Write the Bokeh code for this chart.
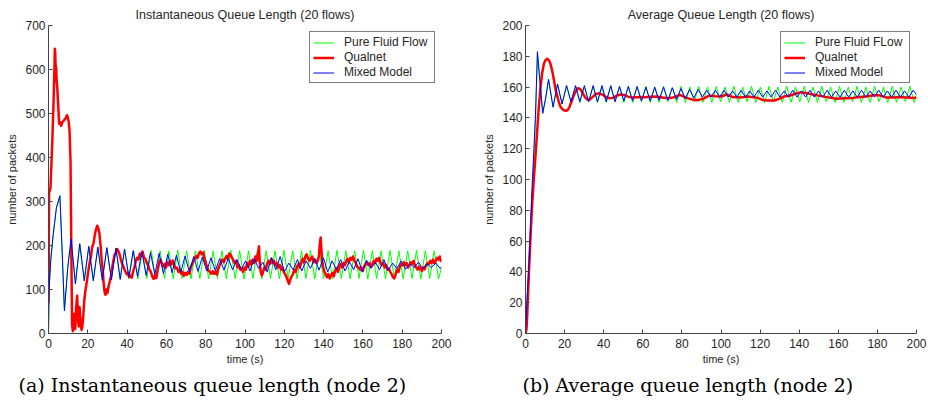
from bokeh.plotting import figure
from bokeh.layouts import row
from bokeh.models import Range1d, Title, Legend, LegendItem, FixedTicker
from bokeh.embed import file_html
from bokeh.resources import INLINE

# ---------------- data ----------------
x_ticks = [0, 20, 40, 60, 80, 100, 120, 140, 160, 180, 200]
y_ticks_left = [0, 100, 200, 300, 400, 500, 600, 700]
y_ticks_right = [0, 20, 40, 60, 80, 100, 120, 140, 160, 180, 200]
series_names_left = ["Pure Fluid Flow", "Qualnet", "Mixed Model"]
series_names_right = ["Pure Fluid FLow", "Qualnet", "Mixed Model"]

# Left panel: instantaneous queue length
early_t_left = [0, 0.3, 1.2, 2.4, 4.0, 5.8, 7.0, 8.1, 9.8, 11.5, 13.7, 15.9, 18.2, 20.5, 22.8,
                25.1, 27.4, 29.7, 32.0, 34.3, 36.5, 38.7]
early_v_left = [0, 100, 170, 225, 285, 313, 181, 52, 150, 215, 113, 204, 120, 198, 120,
                196, 121, 195, 122, 194, 123, 192]

fluid_t_left = early_t_left + [
    41.0, 43.3, 45.5, 47.8, 50.0, 52.3, 54.5, 56.8, 59.0, 61.3,
    63.5, 65.8, 68.0, 70.3, 72.5, 74.8, 77.0, 79.3, 81.5, 83.8,
    86.0, 88.3, 90.5, 92.8, 95.0, 97.3, 99.5, 101.8, 104.0, 106.3,
    108.5, 110.8, 113.0, 115.3, 117.5, 119.8, 122.0, 124.3, 126.5, 128.8,
    131.0, 133.3, 135.5, 137.8, 140.0, 142.3, 144.5, 146.8, 149.0, 151.3,
    153.5, 155.8, 158.0, 160.3, 162.5, 164.8, 167.0, 169.3, 171.5, 173.8,
    176.0, 178.3, 180.5, 182.8, 185.0, 187.3, 189.5, 191.8, 194.0, 196.3,
    198.5, 200]
fluid_v_left = early_v_left + [
    125, 189, 124, 188, 125, 189, 124, 188, 125, 188,
    124, 189, 125, 188, 124, 188, 125, 189, 124, 188,
    125, 188, 124, 189, 125, 188, 124, 188, 125, 189,
    124, 188, 125, 188, 124, 189, 125, 188, 124, 188,
    125, 189, 124, 188, 125, 188, 124, 189, 125, 188,
    124, 188, 125, 189, 124, 188, 125, 188, 124, 189,
    125, 188, 124, 188, 125, 189, 124, 188, 125, 188,
    124, 150]

mixed_t_left = early_t_left + [
    40.9, 43.1, 45.3, 47.5, 49.7, 51.9, 54.1, 56.3, 58.5, 60.7,
    62.9, 65.1, 67.3, 69.5, 71.7, 73.9, 76.1, 78.3, 80.5, 82.7,
    84.9, 87.1, 89.3, 91.5, 93.7, 95.9, 98.1, 100.3, 102.5, 104.7,
    106.9, 109.1, 111.3, 113.5, 115.7, 117.9, 120.1, 122.3, 124.5, 126.7,
    128.9, 131.1, 133.3, 135.5, 137.7, 139.9, 142.1, 144.3, 146.5, 148.7,
    150.9, 153.1, 155.3, 157.5, 159.7, 161.9, 164.1, 166.3, 168.5, 170.7,
    172.9, 175.1, 177.3, 179.5, 181.7, 183.9, 186.1, 188.3, 190.5, 192.7,
    194.9, 197.1, 199.3, 200]
mixed_v_left = early_v_left + [
    128, 188, 130, 186, 132, 184, 134, 182, 136, 180,
    138, 178, 139, 176, 140, 175, 141, 174, 142, 172,
    143, 170, 144, 170, 145, 168, 146, 165, 142, 170,
    148, 162, 140, 172, 145, 175, 140, 160, 145, 168,
    142, 165, 148, 170, 144, 172, 140, 165, 146, 168,
    142, 163, 145, 170, 140, 166, 148, 162, 145, 168,
    143, 160, 148, 165, 146, 158, 150, 162, 147, 158,
    150, 160, 148, 152]

qualnet_t_left = [
    0, 0.3, 1.0, 1.9, 2.7, 3.0, 3.2, 3.4, 3.6, 3.9,
    4.2, 4.4, 4.9, 5.4, 5.9, 6.4, 7.0, 7.6, 8.2, 8.8,
    9.4, 9.9, 10.3, 10.7, 11.2, 11.6, 12.0, 12.4, 12.8, 13.2,
    13.6, 14.0, 14.6, 15.0, 15.4, 15.8, 16.3, 16.8, 17.2, 17.7,
    18.2, 18.8, 19.5, 20.2, 20.9, 21.6, 22.2, 22.9, 23.5, 24.1,
    24.8, 25.3, 25.9, 26.5, 27.0, 27.5, 28.0, 28.5, 29.0, 29.5,
    30.0, 30.6, 31.2, 31.8, 32.4, 33.0, 33.7, 34.3, 35.0, 35.7,
    36.3, 37.0, 37.7, 38.3, 39.0, 39.7, 40.3, 41.0, 41.7, 42.4,
    43.0, 43.7, 44.4, 45.1, 45.8, 46.5, 47.2, 47.9, 48.6, 49.3,
    50.0, 50.7, 51.4, 52.1, 52.8, 53.5, 54.2, 54.9, 55.6, 56.3,
    57.0, 57.7, 58.4, 59.1, 59.8, 60.5, 61.2, 61.9, 62.6, 63.3,
    64.0, 64.7, 65.4, 66.1, 66.8, 67.5, 68.2, 68.9, 69.6, 70.3,
    71.0, 71.7, 72.4, 73.1, 73.8, 74.5, 75.2, 75.9, 76.6, 77.3,
    78.0, 78.7, 79.4, 80.1, 80.8, 81.5, 82.2, 82.9, 83.6, 84.3,
    85.0, 85.7, 86.4, 87.1, 87.8, 88.5, 89.2, 89.9, 90.6, 91.3,
    92.0, 92.7, 93.4, 94.1, 94.8, 95.5, 96.2, 96.9, 97.6, 98.3,
    99.0, 99.7, 100.4, 101.1, 101.8, 102.5, 103.2, 103.9, 104.6, 105.3,
    106.0, 106.7, 107.1, 107.5, 108.0, 108.6, 109.2, 109.9, 110.6, 111.3,
    112.0, 112.7, 113.4, 114.1, 114.8, 115.5, 116.2, 116.9, 117.6, 118.3,
    119.0, 119.7, 120.4, 121.1, 121.8, 122.4, 123.0, 123.7, 124.4, 125.1,
    125.8, 126.5, 127.2, 127.9, 128.6, 129.3, 130.0, 130.7, 131.4, 132.1,
    132.8, 133.5, 134.2, 134.9, 135.6, 136.3, 137.0, 137.6, 138.1, 138.5,
    138.9, 139.3, 139.8, 140.4, 141.0, 141.7, 142.4, 143.1, 143.8, 144.5,
    145.2, 145.9, 146.6, 147.3, 148.0, 148.7, 149.4, 150.1, 150.8, 151.5,
    152.2, 152.9, 153.6, 154.3, 155.0, 155.7, 156.4, 157.1, 157.8, 158.5,
    159.2, 159.9, 160.6, 161.3, 162.0, 162.7, 163.4, 164.1, 164.8, 165.5,
    166.2, 166.9, 167.6, 168.3, 169.0, 169.7, 170.4, 171.1, 171.8, 172.5,
    173.2, 173.9, 174.6, 175.3, 176.0, 176.7, 177.4, 178.1, 178.8, 179.5,
    180.2, 180.9, 181.6, 182.3, 183.0, 183.7, 184.4, 185.1, 185.8, 186.5,
    187.2, 187.9, 188.6, 189.3, 190.0, 190.7, 191.4, 192.1, 192.8, 193.5,
    194.2, 194.9, 195.6, 196.3, 197.0, 197.7, 198.4, 199.1, 199.6, 200]
qualnet_v_left = [
    70, 320, 330, 431, 545, 598, 647, 640, 610, 605,
    570, 564, 522, 477, 480, 472, 480, 483, 486, 490,
    496, 490, 480, 462, 393, 200, 20, 5, 35, 45,
    10, 55, 86, 30, 16, 60, 30, 8, 15, 40,
    75, 98, 118, 140, 160, 175, 196, 205, 222, 235,
    245, 240, 228, 200, 170, 150, 118, 95, 88, 100,
    92, 108, 118, 130, 150, 165, 180, 183, 192, 186,
    178, 165, 156, 150, 142, 135, 138, 128, 132, 127,
    140, 150, 165, 172, 168, 182, 177, 186, 172, 170,
    160, 155, 145, 140, 130, 124, 132, 126, 145, 160,
    168, 160, 152, 158, 150, 162, 155, 165, 158, 166,
    154, 148, 150, 140, 145, 136, 140, 131, 138, 133,
    140, 136, 150, 158, 165, 170, 176, 172, 183, 186,
    180, 184, 170, 160, 150, 142, 140, 136, 142, 135,
    140, 134, 148, 155, 162, 168, 162, 170, 176, 170,
    182, 178, 172, 166, 160, 165, 150, 155, 145, 148,
    140, 150, 145, 160, 152, 165, 158, 168, 160, 175,
    165, 185, 198, 165, 140, 132, 140, 150, 145, 160,
    165, 158, 170, 160, 165, 155, 160, 150, 156, 145,
    150, 140, 135, 128, 120, 113, 122, 130, 135, 145,
    140, 152, 158, 150, 160, 170, 162, 175, 180, 170,
    165, 170, 175, 162, 168, 160, 165, 175, 205, 218,
    190, 165, 150, 140, 135, 128, 135, 125, 132, 138,
    130, 142, 148, 140, 152, 158, 150, 160, 155, 165,
    170, 162, 172, 168, 175, 165, 160, 152, 150, 145,
    150, 142, 152, 158, 162, 155, 160, 152, 158, 165,
    160, 170, 165, 172, 160, 155, 160, 150, 155, 145,
    148, 140, 135, 128, 125, 135, 145, 140, 152, 158,
    155, 162, 155, 160, 150, 156, 162, 158, 165, 155,
    150, 145, 152, 148, 142, 150, 146, 155, 160, 158,
    165, 160, 168, 160, 165, 172, 168, 175, 165, 170]

# Right panel: average queue length
early_t_right = [0, 0.8, 1.7, 2.6, 3.4, 4.3, 5.1, 6.1, 7.4, 8.8, 10.3, 11.8, 14.1, 16.4, 18.7, 21.0]

fluid_t_right = early_t_right + [
    23.3, 25.6, 27.8, 30.1, 32.3, 34.6, 36.8, 39.1, 41.3, 43.6,
    45.8, 48.1, 50.3, 52.6, 54.8, 57.1, 59.3, 61.6, 63.8, 66.1,
    68.3, 70.6, 72.8, 75.1, 77.3, 79.6, 81.8, 84.1, 86.3, 88.6,
    90.8, 93.1, 95.3, 97.6, 99.8, 102.1, 104.3, 106.6, 108.8, 111.1,
    113.3, 115.6, 117.8, 120.1, 122.3, 124.6, 126.8, 129.1, 131.3, 133.6,
    135.8, 138.1, 140.3, 142.6, 144.8, 147.1, 149.3, 151.6, 153.8, 156.1,
    158.3, 160.6, 162.8, 165.1, 167.3, 169.6, 171.8, 174.1, 176.3, 178.6,
    180.8, 183.1, 185.3, 187.6, 189.8, 192.1, 194.3, 196.6, 198.8, 200]
fluid_v_right = [0, 20, 41, 66, 91, 115, 138, 182, 165, 143, 152, 165, 147, 162, 149, 161] + [
    150, 160.5, 150, 160, 150.5, 160.5, 150, 160, 150, 160.5,
    150.5, 160, 150, 160.5, 150, 160, 150.5, 160.5, 150, 160,
    150, 160.5, 150.5, 160, 150, 160.5, 150, 160, 150.5, 160.5,
    150, 160, 150, 160.5, 150.5, 160, 150, 160.5, 150, 160,
    150.5, 160.5, 150, 160, 150, 160.5, 150.5, 160, 150, 160.5,
    150, 160, 150.5, 160.5, 150, 160, 150, 160.5, 150.5, 160,
    150, 160.5, 150, 160, 150.5, 160.5, 150, 160, 150, 160.5,
    150.5, 160, 150, 160.5, 150, 160, 150.5, 160.5, 150, 155]

mixed_t_right = early_t_right + [
    23.3, 25.6, 27.8, 30.1, 32.3, 34.6, 36.8, 39.1, 41.3, 43.6,
    45.8, 48.1, 50.3, 52.6, 54.8, 57.1, 59.3, 61.6, 63.8, 66.1,
    68.3, 70.6, 72.8, 75.1,
    77.3, 79.5, 81.7, 83.9, 86.1, 88.3, 90.5, 92.7, 94.9, 97.1,
    99.3, 101.5, 103.7, 105.9, 108.1, 110.3, 112.5, 114.7, 116.9, 119.1,
    121.3, 123.5, 125.7, 127.9, 130.1, 132.3, 134.5, 136.7, 138.9, 141.1,
    143.3, 145.5, 147.7, 149.9, 152.1, 154.3, 156.5, 158.7, 160.9, 163.1,
    165.3, 167.5, 169.7, 171.9, 174.1, 176.3, 178.5, 180.7, 182.9, 185.1,
    187.3, 189.5, 191.7, 193.9, 196.1, 198.3, 200]
mixed_v_right = [0, 22, 44, 70, 96, 120, 142, 183, 163, 143, 153, 165, 147, 162, 149, 161] + [
    150.5, 161, 150.5, 161, 150.5, 161, 150.5, 161, 150.5, 161,
    150.5, 160.5, 151, 160.5, 151, 160.5, 151, 160, 151, 160,
    151.5, 160, 151.5, 159.5,
    152, 159, 152.5, 158.5, 153, 158.5, 153.5, 158, 153.5, 158,
    153.5, 158, 153.5, 157.5, 153.5, 158, 153.5, 157.5, 153.5, 158,
    153.5, 157.5, 153.5, 158, 153.5, 157.5, 153.5, 158, 153.5, 157.5,
    153.5, 158, 153.5, 157.5, 153.5, 158, 153.5, 157.5, 153.5, 158,
    153.5, 157.5, 153.5, 158, 153.5, 157.5, 153.5, 158, 153.5, 157.5,
    153.5, 158, 153.5, 157.5, 153.5, 158, 155]

qualnet_t_right = [
    0, 0.5, 0.9, 1.7, 2.6, 3.4, 4.3, 5.2, 6.0, 6.8,
    7.7, 8.5, 9.4, 10.2, 11.1, 12.0, 12.8, 13.6, 14.5, 15.3,
    16.2, 17.1, 18.0, 18.8, 19.7, 20.6, 21.5, 22.5, 23.5, 24.5,
    25.6, 26.8, 28.0, 29.2, 30.5, 31.7, 33.0, 34.5, 36.0, 37.8,
    39.5, 41.2, 43.0, 44.7, 46.5, 48.5, 50.6, 52.5, 55.0, 58.0,
    61.0, 64.0, 67.0, 70.0, 73.0, 76.0, 79.0, 82.0, 85.0, 88.0,
    91.0, 94.0, 97.0, 100.0, 103.0, 106.0, 110.0, 113.7, 118.8, 121.5,
    124.0, 127.3, 130.0, 132.4, 135.5, 138.6, 141.2, 144.0, 147.1, 150.5,
    154.0, 159.1, 163.0, 167.6, 171.0, 174.4, 178.7, 181.5, 184.6, 188.0,
    191.5, 195.0, 198.3, 200]
qualnet_v_right = [
    0, 3, 12, 38, 64, 84, 101, 117, 132, 147,
    160, 169, 175, 177.5, 178.4, 177.5, 175, 171, 165, 159,
    154.5, 150, 147, 145.8, 145, 144.6, 145, 147, 150.5, 154,
    157, 159.3, 158.8, 156.3, 153.3, 151.8, 152, 153.8, 155.5, 156,
    155, 153.5, 152.8, 153, 154.3, 155.2, 154.8, 153.8, 153.3, 153.6,
    153.4, 153.8, 153.9, 153.2, 152.8, 153.4, 155, 153.2, 152, 151.5,
    152.5, 154.5, 154, 153.9, 155.2, 153.5, 153.2, 153.9, 153, 151.6,
    151.3, 151.3, 152.5, 153.9, 154.5, 156, 156.7, 156, 155.2, 154.3,
    153.5, 152.4, 152.8, 153, 153.5, 153.9, 154.8, 154.5, 153.2, 153.2,
    153.5, 153.2, 153, 153.3]

for a, b, n in [(fluid_t_left, fluid_v_left, "fl"), (mixed_t_left, mixed_v_left, "ml"),
                (qualnet_t_left, qualnet_v_left, "ql"), (fluid_t_right, fluid_v_right, "fr"),
                (mixed_t_right, mixed_v_right, "mr"), (qualnet_t_right, qualnet_v_right, "qr")]:
    assert len(a) == len(b), f"{n}: {len(a)} vs {len(b)}"

# ---------------- styling ----------------
SANS = "Liberation Sans"
SERIF = "DejaVu Serif"
AXIS_COL = "#444444"
TEXT_COL = "#262626"
GREEN = "#00ff00"
RED = "#ff0000"
BLUE = "#0000ff"


def panel(title, caption, names, ymax, yticks, data, width, bl, br, cap_offset, label_width):
    p = figure(width=width, height=405, output_backend="svg", toolbar_location=None,
               x_range=Range1d(0, 200), y_range=Range1d(0, ymax),
               min_border_left=bl, min_border_right=br, min_border_top=25, min_border_bottom=72)
    p.outline_line_color = None
    p.grid.visible = False
    p.background_fill_color = "white"
    p.border_fill_color = "white"

    p.title.text = title
    p.title.align = "center"
    p.title.text_font = SANS
    p.title.text_font_size = "12.5px"
    p.title.text_font_style = "normal"
    p.title.text_color = TEXT_COL
    p.title.standoff = 7

    for ax in (p.xaxis[0], p.yaxis[0]):
        ax.axis_line_color = AXIS_COL
        ax.major_tick_line_color = AXIS_COL
        ax.major_tick_in = 4
        ax.major_tick_out = 0
        ax.minor_tick_line_color = None
        ax.major_label_text_font = SANS
        ax.major_label_text_font_size = "12px"
        ax.major_label_text_color = TEXT_COL
        ax.axis_label_text_font = SANS
        ax.axis_label_text_font_size = "11px"
        ax.axis_label_text_font_style = "normal"
        ax.axis_label_text_color = TEXT_COL
    p.xaxis.major_label_standoff = 5
    p.xaxis.axis_label_standoff = 2
    p.yaxis.major_label_standoff = 3
    p.yaxis.axis_label_standoff = 4
    p.xaxis.ticker = FixedTicker(ticks=x_ticks)
    p.yaxis.ticker = FixedTicker(ticks=yticks)
    p.xaxis.axis_label = "time (s)"
    p.yaxis.axis_label = "number of packets"

    (ft, fv), (qt, qv), (mt, mv) = data
    g = p.line(ft, fv, line_color=GREEN, line_width=1)
    r = p.line(qt, qv, line_color=RED, line_width=2.5, line_join="round")
    b = p.line(mt, mv, line_color=BLUE, line_width=1)

    leg = Legend(items=[LegendItem(label=names[0], renderers=[g]),
                        LegendItem(label=names[1], renderers=[r]),
                        LegendItem(label=names[2], renderers=[b])],
                 location="top_right", margin=6, padding=3, spacing=1,
                 label_height=13, glyph_height=13, glyph_width=21, label_standoff=10,
                 label_width=label_width,
                 label_text_font=SANS, label_text_font_size="12px", label_text_color=TEXT_COL,
                 border_line_color="black", border_line_width=1,
                 background_fill_color="white", background_fill_alpha=1.0)
    p.add_layout(leg)

    cap = Title(text=caption, align="left", offset=cap_offset, text_font=SERIF,
                text_font_size="19px", text_font_style="normal", text_color="black", standoff=8)
    p.add_layout(cap, "below")
    return p


p1 = panel("Instantaneous Queue Length (20 flows)", "(a) Instantaneous queue length (node 2)",
           series_names_left, 700, y_ticks_left,
           [(fluid_t_left, fluid_v_left), (qualnet_t_left, qualnet_v_left), (mixed_t_left, mixed_v_left)],
           464, 48, 23, -30, 87)
p2 = panel("Average Queue Length (20 flows)", "(b) Average queue length (node 2)",
           series_names_right, 200, y_ticks_right,
           [(fluid_t_right, fluid_v_right), (qualnet_t_right, qualnet_v_right), (mixed_t_right, mixed_v_right)],
           464, 61, 12, -3, 91)

layout = row(p1, p2, spacing=0)
open("out.html", "w").write(file_html(layout, INLINE))
